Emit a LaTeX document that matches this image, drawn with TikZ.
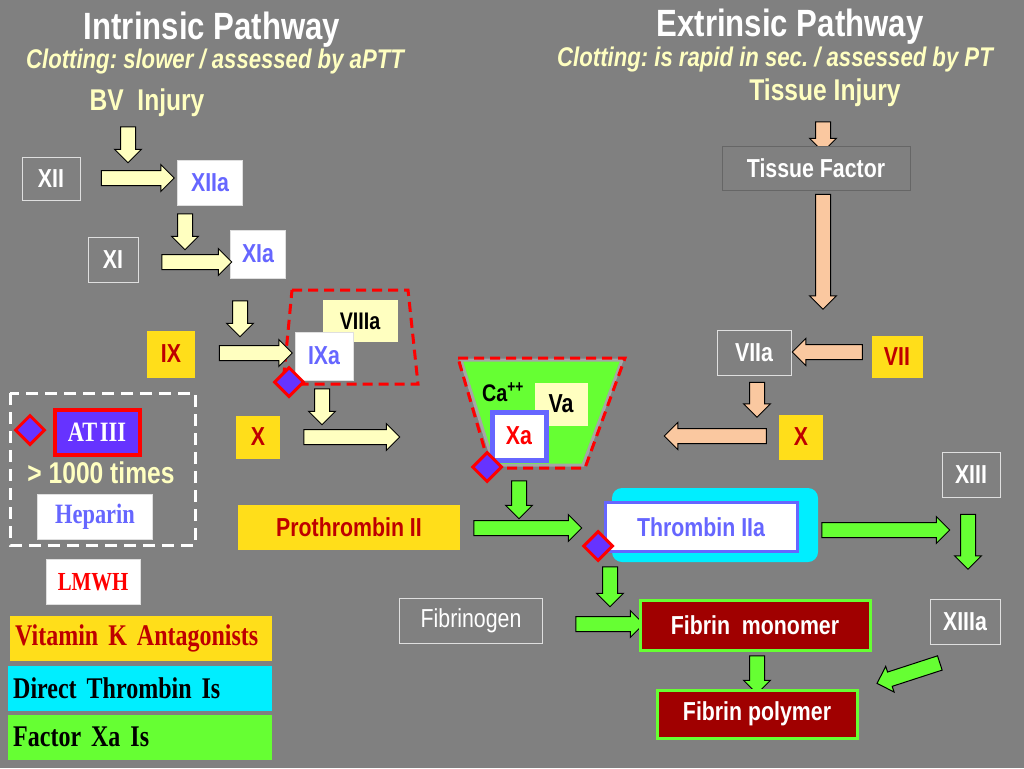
\documentclass[tikz,border=0pt]{standalone}
\usepackage{fontspec}
\setmainfont{Liberation Sans}[FakeStretch=0.82]
\newfontfamily\drugfont{Liberation Serif}[FakeStretch=0.8, WordSpace=0.45]
\usetikzlibrary{shapes.arrows, shapes.geometric, positioning}
\frenchspacing
\definecolor{bgray}{RGB}{128,128,128}
\definecolor{fyel}{RGB}{255,222,26}
\definecolor{dred}{RGB}{190,0,0}
\definecolor{lyel}{RGB}{255,255,192}
\definecolor{peach}{RGB}{250,200,160}
\definecolor{fgreen}{RGB}{102,255,51}
\definecolor{violet}{RGB}{102,51,255}
\definecolor{fblue}{RGB}{102,102,255}
\definecolor{cyn}{RGB}{0,238,255}
\definecolor{mono}{RGB}{160,0,0}
\tikzset{
	fac/.style={rectangle, draw=white!75!gray, line width=1pt, inner sep=0pt,
		font=\bfseries\fontsize{26}{28}\selectfont},
	gfac/.style={fac, fill=bgray, text=white},
	wfac/.style={fac, fill=white, text=fblue},
	yfac/.style={fac, draw=none, fill=fyel, text=dred},
	barrow/.style={single arrow, draw=black, line width=1pt, inner sep=7pt,
		single arrow head extend=6pt, single arrow tip angle=90},
	yarr/.style={barrow, fill=lyel},
	parr/.style={barrow, fill=peach},
	garr/.style={barrow, fill=fgreen},
	inh/.style={diamond, draw=red, fill=violet, line width=3pt, inner sep=0pt, minimum size=30pt},
	drug/.style={rectangle, inner sep=0pt, anchor=west, font=\drugfont\bfseries\fontsize{30}{32}\selectfont},
	ttl/.style={text=white, font=\bfseries\fontsize{38}{40}\selectfont},
	sub/.style={text=lyel, font=\bfseries\itshape\fontsize{27}{29}\selectfont}
}
\begin{document}
\begin{tikzpicture}[x=1pt,y=-1pt]
	\fill[bgray] (0,0) rectangle (1024,768);
	% titles
	\node[ttl] (intr) at (212,30) {Intrinsic Pathway};
	\node[sub] (intrs) at (215,62) {Clotting: slower / assessed by aPTT};
	\node[ttl] (extr) at (790,27) {Extrinsic Pathway};
	\node[sub] (extrs) at (775,60) {Clotting: is rapid in sec. / assessed by PT};
	\node[text=lyel, font=\bfseries\fontsize{30}{32}\selectfont] (bvinj) at (147,103) {BV\ \ Injury};
	\node[text=lyel, font=\bfseries\fontsize{30}{32}\selectfont] (tisinj) at (825,93) {Tissue Injury};
	% intrinsic cascade
	\node[gfac, minimum width=58pt, minimum height=43pt] (xii) at (51,179) {XII};
	\node[wfac, minimum width=65pt, minimum height=45pt] (xiia) at (210,183) {XIIa};
	\node[gfac, minimum width=50pt, minimum height=45pt] (xi) at (113,260) {XI};
	\node[wfac, minimum width=55pt, minimum height=48pt] (xia) at (258,254) {XIa};
	\node[yarr, rotate=-90, minimum height=36pt] (a1) at (128,141) {};
	\node[yarr, minimum height=73pt] (a2) at (134,178) {};
	\node[yarr, rotate=-90, minimum height=36pt] (a3) at (185,228) {};
	\node[yarr, minimum height=70pt] (a4) at (193,262) {};
	\node[yarr, rotate=-90, minimum height=36pt] (a5) at (240,315) {};
	\draw[red, line width=3pt, dash pattern=on 10pt off 6pt] (292,290) -- (408,290) -- (418,384) -- (283,384) -- cycle;
	\node[fac, draw=none, fill=lyel, text=black, minimum width=75pt, minimum height=42pt,
		font=\bfseries\fontsize{24}{26}\selectfont] (viiia) at (360,321) {VIIIa};
	\node[yfac, minimum width=48pt, minimum height=47pt] (ix) at (171,354) {IX};
	\node[yarr, minimum height=73pt] (a6) at (252,353) {};
	\node[wfac, minimum width=58pt, minimum height=48pt] (ixa) at (324,356) {IXa};
	\node[inh] (d1) at (289,382) {};
	\node[yarr, rotate=-90, minimum height=36pt] (a7) at (322,403) {};
	\node[yfac, minimum width=44pt, minimum height=43pt] (x1) at (258,437) {X};
	\node[yarr, minimum height=96pt] (a8) at (348,437) {};
	% prothrombinase
	\fill[fgreen, draw=gray!70, line width=3pt] (461,360) -- (622,360) -- (583,465) -- (494,465) -- cycle;
	\draw[red, line width=3pt, dash pattern=on 10pt off 6pt] (458,358) -- (625,358) -- (585,468) -- (490,468) -- cycle;
	\node[font=\bfseries\fontsize{24}{26}\selectfont] (ca) at (503,392) {Ca\textsuperscript{++}};
	\node[fac, draw=none, fill=lyel, text=black, minimum width=53pt, minimum height=43pt] (va) at (561,404) {Va};
	\node[fac, draw=fblue, line width=5pt, fill=white, text=red, minimum width=54pt, minimum height=48pt] (xa) at (519,436) {Xa};
	\node[inh] (d2) at (487,467) {};
	\node[garr, rotate=-90, minimum height=38pt] (a9) at (519,496) {};
	% extrinsic cascade
	\node[parr, rotate=-90, minimum height=30pt] (b1) at (823,133) {};
	\node[fac, draw=black!60, fill=bgray, text=white, minimum width=188pt, minimum height=44pt] (tf) at (816,168) {Tissue Factor};
	\node[parr, rotate=-90, minimum height=115pt] (b2) at (823,248) {};
	\node[gfac, minimum width=74pt, minimum height=45pt] (viia) at (754,353) {VIIa};
	\node[yfac, minimum width=51pt, minimum height=42pt] (vii) at (897,357) {VII};
	\node[parr, rotate=180, minimum height=70pt] (b3) at (831,352) {};
	\node[parr, rotate=-90, minimum height=35pt] (b4) at (757,396) {};
	\node[yfac, minimum width=44pt, minimum height=45pt] (x2) at (801,437) {X};
	\node[parr, rotate=180, minimum height=102pt] (b5) at (719,436) {};
	% common pathway
	\node[yfac, minimum width=222pt, minimum height=45pt, text=dred] (proth) at (349,527) {Prothrombin II};
	\node[garr, minimum height=108pt] (a10) at (524,528) {};
	\node[rectangle, rounded corners=10pt, fill=cyn, minimum width=206pt, minimum height=74pt] (thrbg) at (715,525) {};
	\node[fac, draw=fblue, line width=3pt, fill=white, text=fblue, minimum width=192pt, minimum height=49pt] (thr) at (701,527) {Thrombin IIa};
	\node[inh] (d3) at (598,546) {};
	\node[garr, minimum height=128pt] (a11) at (882,530) {};
	\node[gfac, minimum width=58pt, minimum height=45pt] (xiii) at (971,475) {XIII};
	\node[garr, rotate=-90, minimum height=55pt] (a12) at (968,538) {};
	\node[gfac, minimum width=70pt, minimum height=45pt] (xiiia) at (965,622) {XIIIa};
	\node[garr, rotate=-90, minimum height=40pt] (a13) at (610,583) {};
	\node[gfac, minimum width=143pt, minimum height=45pt, font=\fontsize{26}{28}\selectfont] (fgen) at (471,621) {Fibrinogen};
	\node[garr, minimum height=68pt] (a14) at (606,624) {};
	\node[fac, draw=fgreen, line width=3pt, fill=mono, text=white, minimum width=230pt, minimum height=50pt] (fmon) at (755,625) {Fibrin\ \ monomer};
	\node[garr, rotate=-90, minimum height=38pt] (a15) at (757,671) {};
	\node[fac, draw=fgreen, line width=3pt, fill=mono, text=white, minimum width=200pt, minimum height=48pt] (fpol) at (757,714) {Fibrin polymer};
	\node[garr, rotate=198, minimum height=66pt] (a16) at (912,672) {};
	% anticoagulants
	\draw[white, line width=3pt, dash pattern=on 12pt off 7pt] (10,393) rectangle (195,545);
	\node[inh] (d4) at (30,430) {};
	\node[fac, draw=red, line width=4pt, fill=violet, text=white, minimum width=85pt, minimum height=45pt,
		font=\drugfont\bfseries\fontsize{28}{30}\selectfont] (at3) at (97,432) {AT III};
	\node[text=lyel, font=\bfseries\fontsize{30}{32}\selectfont] (times) at (101,473) {> 1000 times};
	\node[fac, fill=white, text=fblue, minimum width=115pt, minimum height=45pt,
		font=\drugfont\bfseries\fontsize{28}{30}\selectfont] (hep) at (95,517) {Heparin};
	\node[fac, fill=white, text=red, minimum width=94pt, minimum height=45pt,
		font=\drugfont\bfseries\fontsize{26}{28}\selectfont] (lmwh) at (93,582) {LMWH};
	\node[drug, fill=fyel, text=dred, minimum width=262pt, minimum height=45pt, text width=252pt, align=left] (vka) at (10,638) {Vitamin K Antagonists};
	\node[drug, fill=cyn, text=black, minimum width=264pt, minimum height=45pt, text width=254pt, align=left] (dti) at (8,688) {Direct Thrombin Is};
	\node[drug, fill=fgreen, text=black, minimum width=264pt, minimum height=45pt, text width=254pt, align=left] (fxa) at (8,737) {Factor Xa Is};
\end{tikzpicture}
\end{document}
